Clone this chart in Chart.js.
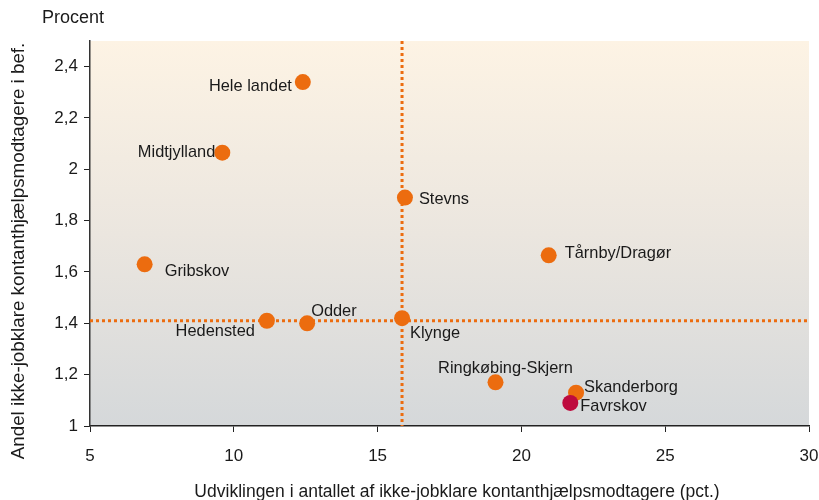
<!DOCTYPE html>
<html>
<head>
<meta charset="utf-8">
<script src="https://cdn.jsdelivr.net/npm/chart.js@4"></script>
<style>
  html, body { margin: 0; padding: 0; background: #fff; }
  #wrap { width: 819px; height: 500px; }
</style>
</head>
<body>
<div id="wrap"><canvas id="scatter" width="819" height="500"></canvas></div>
<script>
// kommuner / områder
const names = ["Hele landet", "Midtjylland", "Stevns", "Tårnby/Dragør", "Gribskov", "Hedensted",
  "Odder", "Klynge", "Ringkøbing-Skjern", "Skanderborg", "Favrskov"];
// udvikling i antal (pct.)
const growth = [12.4, 9.6, 15.95, 20.95, 6.9, 11.15, 12.55, 15.85, 19.1, 21.9, 21.7];
// andel i befolkningen (procent)
const share = [2.34, 2.065, 1.89, 1.665, 1.63, 1.41, 1.4, 1.42, 1.17, 1.13, 1.09];
// referencelinjer (gennemsnit)
const refX = 15.85;
const refY = 1.41;
const yTicks = [1, 1.2, 1.4, 1.6, 1.8, 2, 2.2, 2.4];
const xTicks = [5, 10, 15, 20, 25, 30];

// etiketplacering: [dx, dy, align]
const labelPos = [
  [-11, 4, "right"], [-7, 0, "right"], [14, 2, "left"], [16, -2, "left"],
  [20, 7, "left"], [-12, 11, "right"], [4, -12, "left"], [8, 15, "left"],
  [10, -14, "center"], [8, -5, "left"], [10, 4, "left"]
];

const orange = "#ec6c0f";
const pointColors = names.map((n) => (n === "Favrskov" ? "#be0a3e" : orange));
const FONT = "Liberation Sans, Arial, sans-serif";

const bgPlugin = {
  id: "bg",
  beforeDraw(chart) {
    const { ctx, chartArea: a } = chart;
    const g = ctx.createLinearGradient(0, a.top, 0, a.bottom);
    g.addColorStop(0, "#fdf3e4");
    g.addColorStop(0.5, "#ebe6df");
    g.addColorStop(1, "#d5d8da");
    ctx.save();
    ctx.fillStyle = g;
    ctx.fillRect(a.left, a.top, a.right - a.left, a.bottom - a.top);
    ctx.restore();
  },
};

const refLines = {
  id: "refLines",
  beforeDatasetsDraw(chart) {
    const { ctx, chartArea: a, scales } = chart;
    const px = scales.x.getPixelForValue(refX);
    const py = scales.y.getPixelForValue(refY);
    ctx.save();
    ctx.strokeStyle = orange;
    ctx.lineWidth = 3;
    ctx.setLineDash([3, 3]);
    ctx.beginPath();
    ctx.moveTo(px, a.top);
    ctx.lineTo(px, a.bottom);
    ctx.moveTo(a.left, py);
    ctx.lineTo(a.right, py);
    ctx.stroke();
    ctx.restore();
  },
};

const labels = {
  id: "labels",
  afterDatasetsDraw(chart) {
    const { ctx } = chart;
    const meta = chart.getDatasetMeta(0);
    ctx.save();
    ctx.font = "16.4px " + FONT;
    ctx.fillStyle = "#1a1a1a";
    ctx.textBaseline = "middle";
    meta.data.forEach((pt, i) => {
      const [dx, dy, align] = labelPos[i];
      ctx.textAlign = align;
      ctx.fillText(names[i], pt.x + dx, pt.y + dy);
    });
    ctx.restore();
  },
  afterDraw(chart) {
    const { ctx } = chart;
    ctx.save();
    ctx.fillStyle = "#1a1a1a";
    ctx.textBaseline = "middle";
    ctx.textAlign = "left";
    ctx.font = "18px " + FONT;
    ctx.fillText("Procent", 42, 18);
    ctx.font = "17.5px " + FONT;
    ctx.textAlign = "center";
    ctx.fillText("Udviklingen i antallet af ikke-jobklare kontanthjælpsmodtagere (pct.)", 457, 492);
    ctx.font = "18.8px " + FONT;
    ctx.translate(19, 251);
    ctx.rotate(-Math.PI / 2);
    ctx.fillText("Andel ikke-jobklare kontanthjælpsmodtagere i bef.", 0, 0);
    ctx.restore();
  },
};

new Chart(document.getElementById("scatter"), {
  type: "scatter",
  data: {
    datasets: [
      {
        data: growth.map((g, i) => ({ x: g, y: share[i] })),
        backgroundColor: pointColors,
        borderWidth: 0,
        pointRadius: 8,
        pointHoverRadius: 8,
      },
    ],
  },
  options: {
    responsive: false,
    animation: false,
    layout: { padding: { top: 41, right: 10, left: 0, bottom: 0 } },
    plugins: { legend: { display: false }, tooltip: { enabled: false } },
    scales: {
      x: {
        min: 5,
        max: 30,
        afterFit: (s) => { s.height = 74; s.paddingRight = 0; s.paddingLeft = 0; },
        afterBuildTicks: (s) => { s.ticks = xTicks.map((v) => ({ value: v })); },
        border: { color: "#222", width: 1.5 },
        grid: { drawOnChartArea: false, tickLength: 6, tickColor: "#222" },
        ticks: { color: "#1a1a1a", font: { family: FONT, size: 17 }, padding: 14, maxRotation: 0 },
      },
      y: {
        min: 1,
        max: 2.5,
        afterFit: (s) => { s.width = 90; s.paddingTop = 0; s.paddingBottom = 0; },
        afterBuildTicks: (s) => { s.ticks = yTicks.map((v) => ({ value: v })); },
        border: { color: "#333", width: 1.5 },
        grid: { drawOnChartArea: false, tickLength: 6, tickColor: "#222" },
        ticks: {
          color: "#1a1a1a",
          font: { family: FONT, size: 17 },
          padding: 6,
          callback: (v) => String(Math.round(v * 10) / 10).replace(".", ","),
        },
      },
    },
  },
  plugins: [bgPlugin, refLines, labels],
});
</script>
</body>
</html>
